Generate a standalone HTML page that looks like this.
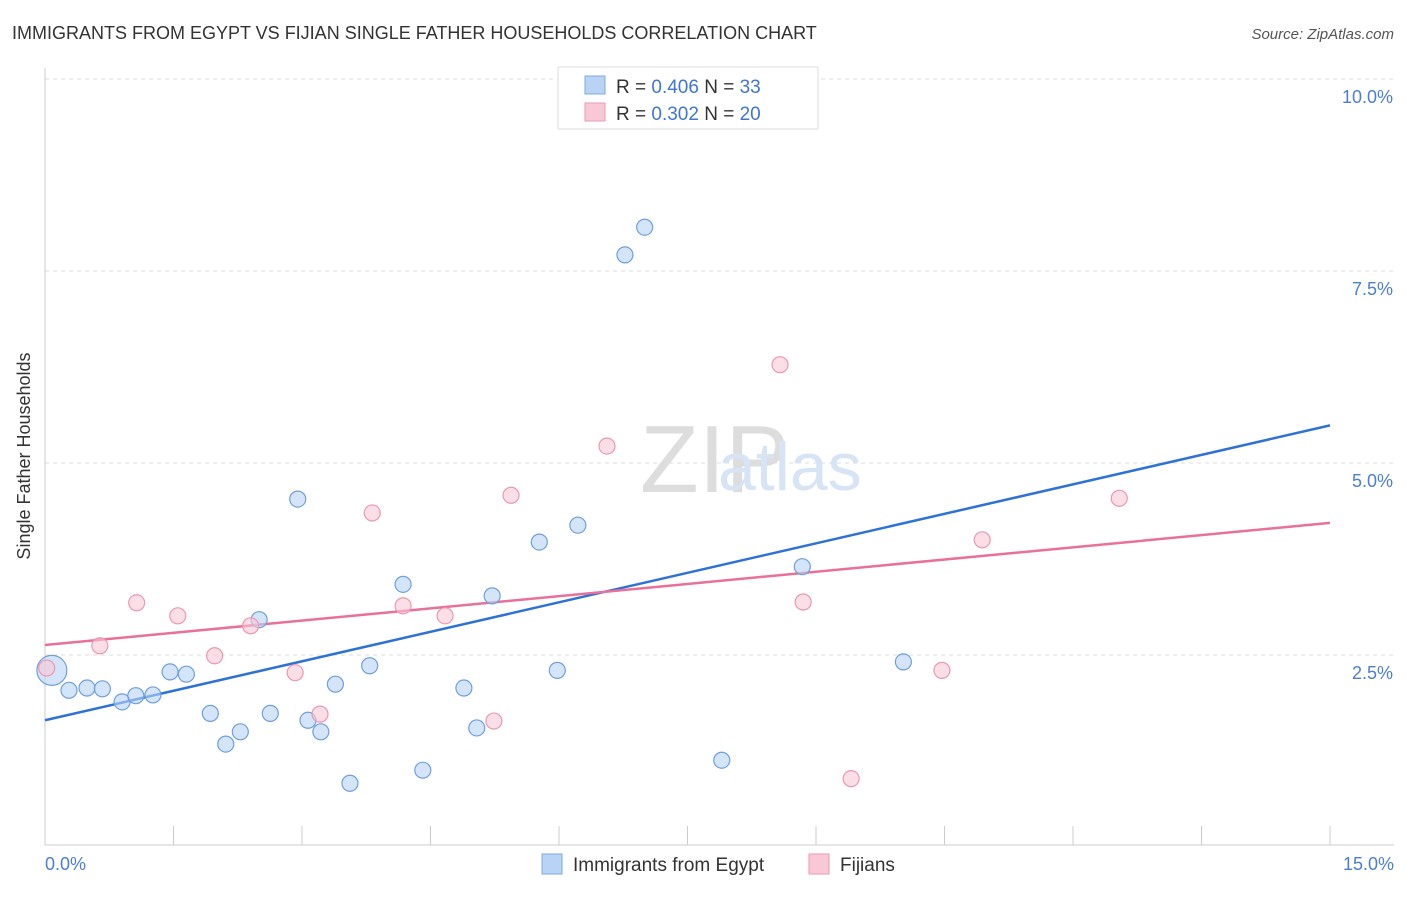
<!DOCTYPE html>
<html><head><meta charset="utf-8"><style>
body{margin:0;background:#fff;font-family:"Liberation Sans",sans-serif;}
svg text{font-family:"Liberation Sans",sans-serif;}
</style></head><body>
<svg width="1406" height="892">
<text x="12" y="39" font-size="18" fill="#333">IMMIGRANTS FROM EGYPT VS FIJIAN SINGLE FATHER HOUSEHOLDS CORRELATION CHART</text>
<text x="1394" y="39" font-size="15" fill="#555" font-style="italic" text-anchor="end">Source: ZipAtlas.com</text>
<text x="30" y="456" font-size="18" fill="#333" text-anchor="middle" transform="rotate(-90 30 456)">Single Father Households</text>
<g id="grid"></g>
<line x1="45" y1="68" x2="45" y2="845" stroke="#ccc"/>
<line x1="45" y1="845" x2="1394" y2="845" stroke="#ccc"/>
<text x="640" y="492" font-size="96" fill="#ddd" font-family="Liberation Serif">ZIP</text>
<text x="718" y="490" font-size="68" fill="#d6e4f5">atlas</text>
<g id="lines"></g>
<g id="pts"></g>
<text x="45" y="870" font-size="18" fill="#4a7fd4">0.0%</text>
<text x="1394" y="870" font-size="18" fill="#4a7fd4" text-anchor="end">15.0%</text>
<rect x="558" y="67" width="260" height="62" fill="#fff" stroke="#ddd"/>
<rect x="585" y="76" width="20" height="18" fill="#b9d3f5" stroke="#7fa9e0"/>
<rect x="585" y="103" width="20" height="18" fill="#f8c8d6" stroke="#ec9ab3"/>
<text x="616" y="93" font-size="19" fill="#333">R = <tspan fill="#3f76d1">0.406</tspan>   N = <tspan fill="#3f76d1">33</tspan></text>
<text x="616" y="120" font-size="19" fill="#333">R = <tspan fill="#3f76d1">0.302</tspan>   N = <tspan fill="#3f76d1">20</tspan></text>
<rect x="542" y="854" width="20" height="20" fill="#b9d3f5" stroke="#7fa9e0"/>
<text x="573" y="871" font-size="19" fill="#333">Immigrants from Egypt</text>
<rect x="809" y="854" width="20" height="20" fill="#f8c8d6" stroke="#ec9ab3"/>
<text x="840" y="871" font-size="19" fill="#333">Fijians</text>
</svg>
<script>
const yTicks=[2.5,5.0,7.5,10.0];
const xTickCount=10;
const egyptX=[0.08,0.28,0.49,0.67,0.90,1.06,1.26,1.46,1.65,1.93,2.11,2.28,2.50,2.63,2.95,3.07,3.22,3.39,3.56,3.79,4.18,4.41,4.89,5.04,5.22,5.77,5.98,6.22,6.77,7.00,7.90,8.84,10.02];
const egyptY=[2.30,2.04,2.07,2.06,1.89,1.97,1.98,2.28,2.25,1.74,1.34,1.50,2.96,1.74,4.53,1.65,1.50,2.12,0.83,2.36,3.42,1.00,2.07,1.55,3.27,3.97,2.30,4.19,7.71,8.07,1.13,3.65,2.41];
const fijiX=[0.02,0.64,1.07,1.55,1.98,2.40,2.92,3.21,3.82,4.18,4.67,5.24,5.44,6.56,8.58,8.85,9.41,10.47,10.94,12.54];
const fijiY=[2.33,2.62,3.18,3.01,2.49,2.88,2.27,1.73,4.35,3.14,3.01,1.64,4.58,5.22,6.28,3.19,0.89,2.30,4.00,4.54];
const egyptTrend=[1.65,5.49];
const fijiTrend=[2.63,4.22];
const NS='http://www.w3.org/2000/svg';
const X=v=>45+v*1285/15, Y=v=>847-v*76.8;
function mk(t,a,p){const e=document.createElementNS(NS,t);for(const k in a)e.setAttribute(k,a[k]);document.getElementById(p).appendChild(e);return e;}
yTicks.forEach(t=>{
 const l=mk('line',{x1:45,x2:1394,y1:Y(t),y2:Y(t),stroke:'#ddd','stroke-dasharray':'4,4'},'grid');
 
 
 const tx=mk('text',{x:1393,y:Y(t)+24,'font-size':18,fill:'#4a7fd4','text-anchor':'end'},'grid');
 tx.textContent=t.toFixed(1)+'%';
 
 
});
for(let i=0;i<=xTickCount;i++){
 const l=mk('line',{x1:X(i*1.5),x2:X(i*1.5),y1:826,y2:845,stroke:'#ccc'},'grid');
 
 
}
const bl=mk('line',{x1:X(0),x2:X(15),y1:Y(egyptTrend[0]),y2:Y(egyptTrend[1]),stroke:'#2f72d6','stroke-width':2.5},'lines');


const pl=mk('line',{x1:X(0),x2:X(15),y1:Y(fijiTrend[0]),y2:Y(fijiTrend[1]),stroke:'#e8709a','stroke-width':2.5},'lines');


egyptX.forEach((x,i)=>{
 const c=mk('circle',{cx:X(x),cy:Y(egyptY[i]),r:i==0?15:8,fill:'rgba(185,211,245,0.6)',stroke:'#6f9fdc','stroke-width':1.2},'pts');
 
 
});
fijiX.forEach((x,i)=>{
 const c=mk('circle',{cx:X(x),cy:Y(fijiY[i]),r:8,fill:'rgba(248,200,214,0.6)',stroke:'#eb98b2','stroke-width':1.2},'pts');
 
 
});
</script>
</body></html>
